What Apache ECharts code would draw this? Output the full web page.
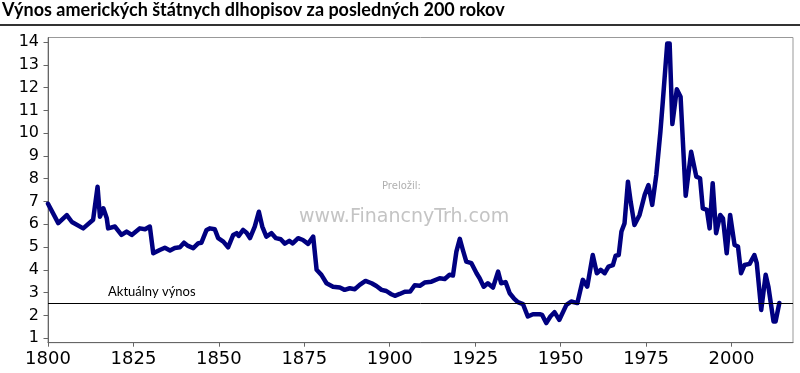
<!DOCTYPE html>
<html>
<head>
<meta charset="utf-8">
<script src="https://cdn.jsdelivr.net/npm/echarts@6/dist/echarts.min.js"></script>
<style>html,body{margin:0;padding:0;background:#fff}#c{width:800px;height:373px}</style>
</head>
<body>
<div id="c"></div>
<script>
const titleText = 'Výnos amerických štátnych dlhopisov za posledných 200 rokov';
const xTickLabels = [1800, 1825, 1850, 1875, 1900, 1925, 1950, 1975, 2000];
const yTickLabels = [1,2,3,4,5,6,7,8,9,10,11,12,13,14];
const currentYield = 2.54;
const currentYieldLabel = 'Aktuálny výnos';
const watermarkSmall = 'Preložil:';
const watermarkBig = 'www.FinancnyTrh.com';

const years = [1800,1803,1805.5,1807,1810.3,1813.2,1814.5,1815.2,1816.2,1817.2,1817.6,1819.6,1821.5,1823,1824.5,1826.9,1828.4,1829.8,1830.8,1832.7,1834.2,1835.7,1837.1,1838.6,1839.8,1841,1842.5,1844,1844.9,1846.4,1847.4,1848.8,1849.8,1851.3,1852.7,1854.2,1855.2,1855.8,1857.1,1858.1,1859.1,1860.5,1861.7,1862.7,1863.9,1865.4,1866.7,1868.1,1869.3,1870.6,1871.6,1873.2,1874.6,1876.1,1877.6,1878.6,1880,1881.5,1883.4,1885.4,1886.8,1888.3,1889.8,1891.2,1892.9,1894.7,1896.1,1897.6,1899,1900.3,1901.5,1902.9,1904.4,1906,1907.3,1908.8,1910.2,1912.2,1914.6,1916.1,1917.5,1918.5,1919.5,1920.5,1921.4,1922.4,1923.9,1925.4,1926.3,1927.5,1928.7,1930.2,1931.7,1932.6,1933.9,1935.1,1936.3,1937.5,1939,1940.4,1941.9,1943.9,1944.6,1945.8,1947,1948.2,1949.6,1951.7,1953.1,1954.9,1956.5,1957.8,1959.4,1960.6,1961.7,1962.9,1964,1965.3,1966.1,1967,1967.8,1968.7,1969.7,1970.5,1971.6,1973.1,1974.6,1975.7,1976.8,1978,1979.2,1979.9,1981.2,1981.9,1982.7,1984,1985.1,1986.6,1988.2,1989.7,1990.8,1991.6,1992.8,1993.6,1994.5,1995.5,1996.7,1997.5,1998.6,1999.6,2000.9,2001.9,2002.8,2003.8,2005.3,2006.7,2007.4,2008.7,2010,2010.8,2012.3,2012.9,2014];
const yields = [6.9,6.05,6.4,6.1,5.82,6.2,7.65,6.33,6.7,6.26,5.82,5.9,5.53,5.68,5.53,5.82,5.78,5.9,4.73,4.87,4.97,4.85,4.96,4.99,5.19,5.05,4.95,5.17,5.19,5.75,5.82,5.78,5.39,5.24,4.99,5.53,5.61,5.49,5.75,5.63,5.39,5.9,6.55,5.9,5.46,5.61,5.39,5.34,5.15,5.27,5.16,5.39,5.31,5.14,5.46,4.0,3.78,3.41,3.26,3.22,3.12,3.19,3.15,3.34,3.51,3.41,3.29,3.12,3.07,2.94,2.86,2.94,3.04,3.05,3.32,3.3,3.44,3.48,3.63,3.6,3.78,3.75,4.8,5.36,4.87,4.36,4.29,3.85,3.63,3.26,3.41,3.22,3.92,3.41,3.46,2.97,2.75,2.58,2.49,1.95,2.05,2.05,2.02,1.66,1.95,2.14,1.8,2.46,2.61,2.54,3.56,3.26,4.65,3.85,4.0,3.85,4.14,4.21,4.62,4.65,5.68,6.04,7.87,6.99,5.97,6.41,7.29,7.72,6.85,8.16,10.06,11.38,13.94,13.94,10.4,11.93,11.6,7.25,9.18,8.09,8.02,6.7,6.63,5.82,7.8,5.61,6.41,6.26,4.73,6.41,5.09,5.02,3.85,4.21,4.26,4.65,4.29,2.24,3.78,3.26,1.73,1.73,2.54];

const seriesData = years.map((y, i) => [y, yields[i]]);

const chart = echarts.init(document.getElementById('c'), null, {renderer: 'canvas'});
chart.setOption({
  animation: false,
  backgroundColor: '#fff',
  title: {
    text: titleText,
    left: 2, top: 1, padding: 0,
    textStyle: {fontFamily: 'Lato', fontWeight: 'bold', fontSize: 18, color: '#000'}
  },
  graphic: [
    {type: 'line', shape: {x1: 0, y1: 25, x2: 800, y2: 25}, style: {stroke: '#333', lineWidth: 2}, z: 10},
    {type: 'text', left: 382, top: 181, style: {text: watermarkSmall, fontFamily: 'DejaVu Sans', fontSize: 10, fill: '#b0b0b0'}},
    {type: 'text', left: 299, top: 208, style: {text: watermarkBig, fontFamily: 'DejaVu Sans', fontSize: 19, fill: '#c4c4c4'}}
  ],
  grid: {left: 48, right: 7, top: 37.5, bottom: 30.3, show: true, borderColor: '#999', borderWidth: 1, containLabel: false},
  xAxis: {
    type: 'value', min: 1800, max: 2018,
    axisLine: {show: true, lineStyle: {color: '#666', width: 1}},
    axisTick: {show: true, length: 4, customValues: xTickLabels, lineStyle: {color: '#666'}},
    axisLabel: {customValues: xTickLabels, formatter: v => String(v), fontFamily: 'DejaVu Sans', fontSize: 18, color: '#000', margin: 8},
    splitLine: {show: false}
  },
  yAxis: {
    type: 'value', min: 0.8, max: 14.2,
    axisLine: {show: true, lineStyle: {color: '#666', width: 1}},
    axisTick: {show: true, length: 4.5, customValues: yTickLabels, lineStyle: {color: '#666'}},
    axisLabel: {customValues: yTickLabels, formatter: v => String(v), fontFamily: 'DejaVu Sans', fontSize: 16, color: '#000', margin: 9},
    splitLine: {show: false}
  },
  series: [{
    type: 'line',
    data: seriesData,
    showSymbol: false,
    symbol: 'none',
    lineStyle: {color: '#000080', width: 4.5, join: 'round', cap: 'round'},
    markLine: {
      silent: true,
      symbol: ['none', 'none'],
      lineStyle: {color: '#000', width: 1, type: 'solid'},
      label: {
        show: true, position: 'insideStartTop', formatter: currentYieldLabel,
        fontFamily: 'Lato', fontSize: 13, color: '#000', distance: [60, 5]
      },
      data: [{yAxis: currentYield}]
    }
  }]
});
</script>
</body>
</html>
